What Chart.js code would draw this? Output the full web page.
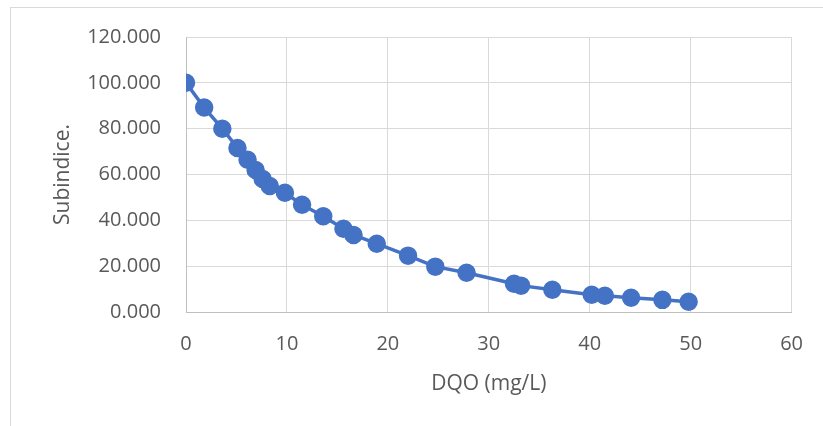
<!DOCTYPE html>
<html>
<head>
<meta charset="utf-8">
<script src="https://cdn.jsdelivr.net/npm/chart.js@4"></script>
<style>
    html, body { margin: 0; padding: 0; background: #fff; }
    #wrap { position: relative; width: 823px; height: 426px; overflow: hidden; }
    #marco { position: absolute; left: 10px; top: 7px; width: 900px; height: 500px;
             border-left: 1px solid #d9d9d9; border-top: 1px solid #d9d9d9; }
    #grafic { position: absolute; left: 0; top: 0; }
</style>
</head>
<body>
<div id="wrap">
    <div id="marco"></div>
    <canvas id="grafic" width="823" height="426"></canvas>
</div>
<script>
// date
const dqo = [0, 1.8, 3.6, 5.1, 6.1, 6.9, 7.6, 8.3, 9.8, 11.5, 13.6, 15.6, 16.6, 18.9,
    22.0, 24.7, 27.8, 32.5, 33.2, 36.3, 40.2, 41.5, 44.1, 47.2, 49.8];
const subindice = [100, 89.2, 80, 71.6, 66.4, 62, 58, 55, 52, 46.8, 41.8, 36.3, 33.6, 29.8,
    24.6, 19.8, 17.1, 12.3, 11.5, 9.7, 7.5, 7.1, 6.2, 5.3, 4.5];
const xTicks = [0, 10, 20, 30, 40, 50, 60];
const yTicks = [0, 20, 40, 60, 80, 100, 120];

const albastru = '#4472C4';
const textGri = '#595959';
const fontTick = { family: 'Open Sans', size: 20 };
const fontTitlu = { family: 'Open Sans', size: 21 };

const puncte = dqo.map((x, i) => ({ x: x, y: subindice[i] }));

const ctx = document.getElementById('grafic').getContext('2d');
new Chart(ctx, {
    type: 'scatter',
    data: {
        datasets: [{
            data: puncte,
            showLine: true,
            borderColor: albastru,
            borderWidth: 3.5,
            backgroundColor: albastru,
            pointBackgroundColor: albastru,
            pointBorderColor: albastru,
            pointRadius: 7.5,
            pointHoverRadius: 7.5,
            tension: 0
        }]
    },
    options: {
        responsive: false,
        animation: false,
        layout: { padding: { left: 50, top: 37, right: 29, bottom: 29 } },
        plugins: { legend: { display: false }, tooltip: { enabled: false } },
        scales: {
            x: {
                type: 'linear',
                min: xTicks[0],
                max: xTicks[xTicks.length - 1],
                afterBuildTicks: s => { s.ticks = xTicks.map(v => ({ value: v })); },
                afterFit: s => { s.height = 426 - 312 - 29; },
                grid: { color: '#d9d9d9', drawTicks: false },
                border: { color: '#bfbfbf' },
                ticks: { color: textGri, font: fontTick, padding: 20 },
                title: { display: true, text: 'DQO (mg/L)', color: textGri, font: fontTitlu, padding: 0 }
            },
            y: {
                type: 'linear',
                min: yTicks[0],
                max: yTicks[yTicks.length - 1],
                afterBuildTicks: s => { s.ticks = yTicks.map(v => ({ value: v })); },
                afterFit: s => { s.width = 186 - 50; },
                grid: { color: '#d9d9d9', drawTicks: false },
                border: { color: '#bfbfbf' },
                ticks: { color: textGri, font: fontTick, padding: 25, callback: v => v.toFixed(3) },
                title: { display: true, text: 'Subindice.', color: textGri, font: fontTitlu, padding: 0 }
            }
        }
    }
});
</script>
</body>
</html>
